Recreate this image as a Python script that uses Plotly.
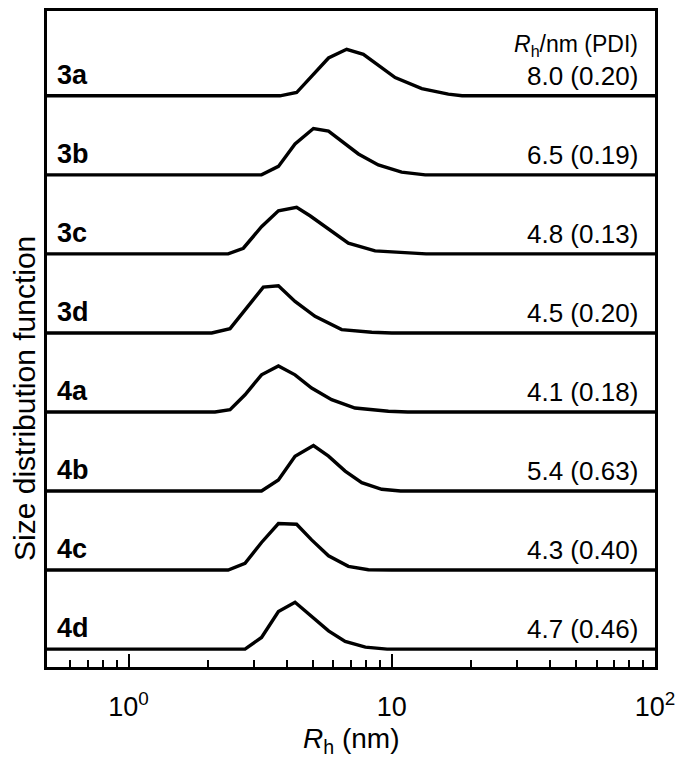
import plotly.graph_objects as go
import numpy as np

# ---- data ----
samples = ["3a", "3b", "3c", "3d", "4a", "4b", "4c", "4d"]
rh_labels = ["8.0 (0.20)", "6.5 (0.19)", "4.8 (0.13)", "4.5 (0.20)",
             "4.1 (0.18)", "5.4 (0.63)", "4.3 (0.40)", "4.7 (0.46)"]

r_3a = [3.76, 4.35, 5.75, 6.74, 7.80, 10.3, 13.0, 16.4, 18.5]
d_3a = [0.0, 3.3, 38.0, 46.7, 41.7, 18.3, 7.3, 1.7, 0.0]
r_3b = [3.20, 3.71, 4.29, 5.04, 5.75, 7.47, 8.89, 10.9, 13.4]
d_3b = [0.0, 8.5, 31.0, 46.5, 44.0, 21.0, 10.0, 2.7, 0.0]
r_3c = [2.39, 2.73, 3.20, 3.71, 4.35, 4.89, 5.75, 6.84, 8.64, 11.6, 13.5]
d_3c = [0.0, 5.7, 27.3, 43.3, 46.7, 38.3, 25.0, 10.7, 3.0, 0.7, 0.0]
r_3d = [2.07, 2.43, 2.81, 3.25, 3.71, 4.29, 5.11, 6.45, 8.39, 10.0]
d_3d = [0.0, 4.3, 25.0, 46.0, 47.3, 31.7, 16.7, 3.3, 0.7, 0.0]
r_4a = [2.13, 2.43, 2.77, 3.20, 3.71, 4.29, 4.96, 5.91, 7.25, 9.71, 11.5]
d_4a = [0.0, 2.3, 17.3, 37.3, 46.3, 37.3, 24.0, 12.3, 4.0, 0.7, 0.0]
r_4b = [3.20, 3.71, 4.29, 5.04, 5.75, 6.65, 7.69, 9.16, 10.8]
d_4b = [0.0, 11.0, 35.0, 45.7, 35.0, 20.0, 8.3, 1.7, 0.0]
r_4c = [2.39, 2.77, 3.20, 3.71, 4.35, 4.96, 5.75, 6.84, 8.15, 10.0]
d_4c = [0.0, 6.7, 27.7, 46.7, 46.0, 30.3, 14.3, 3.7, 0.3, 0.0]
r_4d = [2.77, 3.20, 3.71, 4.29, 4.96, 5.75, 6.65, 7.94, 9.6]
d_4d = [0.0, 11.7, 37.7, 47.0, 32.7, 18.3, 7.7, 2.0, 0.0]

radii = [r_3a, r_3b, r_3c, r_3d, r_4a, r_4b, r_4c, r_4d]
dists = [d_3a, d_3b, d_3c, d_3d, d_4a, d_4b, d_4c, d_4d]

x_min, x_max = 0.49, 100.0
major_vals = [1, 10, 100]
major_text = ["10<sup>0</sup>", "10", "10<sup>2</sup>"]
minor_vals = [0.6, 0.7, 0.8, 0.9, 2, 3, 4, 5, 6, 7, 8, 9,
              20, 30, 40, 50, 60, 70, 80, 90]

# ---- layout constants ----
spacing = 79.4
n = len(samples)
FONT = "Arial, Liberation Sans, sans-serif"

fig = go.Figure()
for i, (r, d) in enumerate(zip(radii, dists)):
    off = (n - 1 - i) * spacing
    xs = [x_min] + list(r) + [x_max]
    ys = [off] + [off + v for v in d] + [off]
    fig.add_trace(go.Scatter(x=xs, y=ys, mode="lines",
                             line=dict(color="black", width=3.4),
                             showlegend=False, hoverinfo="skip"))

annotations = []
for i, (s, lab) in enumerate(zip(samples, rh_labels)):
    off = (n - 1 - i) * spacing
    annotations.append(dict(xref="paper", yref="y", x=0.013, y=off + 4,
                            xanchor="left", yanchor="bottom", showarrow=False,
                            text=f"<b>{s}</b>",
                            font=dict(size=27, color="black", family=FONT)))
    annotations.append(dict(xref="paper", yref="y", x=0.975, y=off + 3,
                            xanchor="right", yanchor="bottom", showarrow=False,
                            text=lab,
                            font=dict(size=26, color="black", family=FONT)))
annotations.append(dict(xref="paper", yref="y", x=0.975, y=(n - 1) * spacing + 51,
                        xanchor="right", yanchor="middle", showarrow=False,
                        text="<i>R</i><sub>h</sub>/nm (PDI)",
                        font=dict(size=23, color="black", family=FONT)))
# axis titles
annotations.append(dict(xref="paper", yref="paper", x=0.5, y=-0.112,
                        xanchor="center", yanchor="middle", showarrow=False,
                        text="<i>R</i><sub>h</sub> (nm)",
                        font=dict(size=28, color="black", family=FONT)))
annotations.append(dict(xref="paper", yref="paper", x=-0.038, y=0.41,
                        xanchor="center", yanchor="middle", showarrow=False,
                        textangle=-90, text="Size distribution function",
                        font=dict(size=30, color="black", family=FONT)))

fig.update_layout(
    width=677, height=755,
    margin=dict(l=39, r=30, t=0, b=96),
    paper_bgcolor="white", plot_bgcolor="white",
    font=dict(family=FONT, color="black", size=22),
    annotations=annotations,
    xaxis=dict(type="log", range=[np.log10(x_min), np.log10(x_max)],
               showline=True, linecolor="black", linewidth=2.5, mirror=True,
               showgrid=False, zeroline=False,
               tickmode="array", tickvals=major_vals, ticktext=major_text,
               ticks="inside", ticklen=13, tickwidth=1.8, tickcolor="black",
               ticklabelstandoff=14,
               tickfont=dict(size=27, family=FONT),
               minor=dict(tickmode="array", tickvals=minor_vals, ticks="inside",
                          ticklen=7, tickwidth=1.8, tickcolor="black",
                          showgrid=False)),
    yaxis=dict(range=[-18, 641], showline=True, linecolor="black", linewidth=2.5,
               mirror=True, showgrid=False, zeroline=False, showticklabels=False,
               ticks=""),
)

fig.write_html("out.html")
